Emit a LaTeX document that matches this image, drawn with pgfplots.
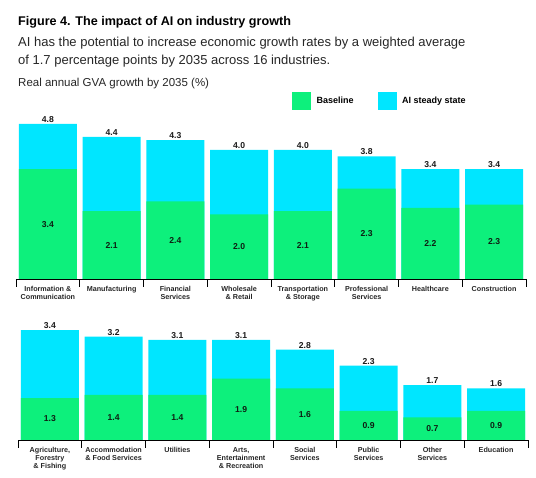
\documentclass[border=0pt]{standalone}
\usepackage{pgfplots}
\pgfplotsset{compat=1.18}
\usepackage{pgfplotstable}
\usepackage{fontspec}
\setmainfont{Liberation Sans}
\definecolor{gBase}{HTML}{0DF07C}
\definecolor{cAI}{HTML}{00E6FF}
\definecolor{numdark}{HTML}{0E1E12}

% x, baseline (drawn height), baseline label
\pgfplotstableread{
x base lab
0 3.4 3.4
1 2.1 2.1
2 2.4 2.4
3 2.0 2.0
4 2.1 2.1
5 2.8 2.3
6 2.2 2.2
7 2.3 2.3
}\topbase
\pgfplotstableread{
x total
0 4.8
1 4.4
2 4.3
3 4.0
4 4.0
5 3.8
6 3.4
7 3.4
}\toptotal
\pgfplotstableread{
x base lab
0 1.3 1.3
1 1.4 1.4
2 1.4 1.4
3 1.9 1.9
4 1.6 1.6
5 0.9 0.9
6 0.7 0.7
7 0.9 0.9
}\botbase
\pgfplotstableread{
x total
0 3.4
1 3.2
2 3.1
3 3.1
4 2.8
5 2.3
6 1.7
7 1.6
}\bottotal

\pgfplotsset{
 rowstyle/.style={
  scale only axis, width=510pt, height=161.5pt,
  xmin=-0.5, xmax=7.5, ymin=0, ymax=5,
  axis y line=none, axis x line*=bottom,
  x axis line style={-, black, line width=0.8pt},
  xtick={0,...,7}, major tick length=0pt,
  extra x ticks={-0.5,0.5,1.5,2.5,3.5,4.5,5.5,6.5,7.5},
  extra x tick labels={},
  extra x tick style={major tick length=8pt, tick align=outside, tick style={black, line width=0.8pt}},
  xticklabel style={font=\fontsize{7.2}{8.1}\selectfont\bfseries, align=center, anchor=north, inner sep=1pt, yshift=-6pt, text=black!85},
  ybar, bar width=58pt, bar shift=0pt,
  clip=false,
  /pgf/number format/assume math mode=true,
  /pgf/number format/.cd, fixed, fixed zerofill, precision=1, /pgfplots/.cd,
 },
 totstyle/.style={fill=cAI, draw=none, nodes near coords,
  every node near coord/.append style={font=\fontsize{8.6}{10}\selectfont\bfseries, text=black!90, inner sep=1.2pt}},
 basestyle/.style={fill=gBase, draw=none, nodes near coords, point meta=explicit,
  visualization depends on={y \as \rawy},
  every node near coord/.append style={font=\fontsize{8.6}{10}\selectfont\bfseries, text=numdark, anchor=center, shift={(axis direction cs:0,-\rawy/2)}}},
}

\begin{document}
\begin{tikzpicture}
\path[use as bounding box] (0pt,0pt) rectangle (536pt,478pt);

\node[anchor=base west, inner sep=0pt, font=\fontsize{12.6}{15}\selectfont\bfseries] at (18pt,452pt) {Figure 4. The impact of AI on industry growth};
\node[anchor=base west, inner sep=0pt, font=\fontsize{13}{15}\selectfont, text=black!85] at (18pt,431.5pt) {AI has the potential to increase economic growth rates by a weighted average};
\node[anchor=base west, inner sep=0pt, font=\fontsize{13}{15}\selectfont, text=black!85] at (18pt,413pt) {of 1.7 percentage points by 2035 across 16 industries.};
\node[anchor=base west, inner sep=0pt, font=\fontsize{11.5}{13}\selectfont, text=black!85] at (18pt,391pt) {Real annual GVA growth by 2035 (\%)};

\begin{axis}[rowstyle, at={(16pt,199pt)}, anchor=south west,
  xticklabels={{Information \&\\Communication}, Manufacturing, {Financial\\Services}, {Wholesale\\\& Retail}, {Transportation\\\& Storage}, {Professional\\Services}, Healthcare, Construction},
  legend style={at={(0.5412,1.105)}, anchor=west, draw=none, fill=none, inner sep=0pt, legend columns=2,
    font=\fontsize{9}{10}\selectfont\bfseries,
    /tikz/every odd column/.append style={column sep=4pt},
    /tikz/every even column/.append style={column sep=22pt}},
  legend cell align=left,
]
\addplot[totstyle, forget plot] table[x=x, y=total] {\toptotal};
\addplot[basestyle, forget plot] table[x=x, y=base, meta=lab] {\topbase};
\addlegendimage{legend image code/.code={\fill[gBase] (0pt,-8.5pt) rectangle (18pt,8.5pt);}}
\addlegendentry{Baseline}
\addlegendimage{legend image code/.code={\fill[cAI] (0pt,-8.5pt) rectangle (18pt,8.5pt);}}
\addlegendentry{AI steady state}
\end{axis}

\begin{axis}[rowstyle, at={(18pt,38pt)}, anchor=south west,
  xticklabels={{Agriculture,\\Forestry\\\& Fishing}, {Accommodation\\\& Food Services}, Utilities, {Arts,\\Entertainment\\\& Recreation}, {Social\\Services}, {Public\\Services}, {Other\\Services}, Education},
]
\addplot[totstyle] table[x=x, y=total] {\bottotal};
\addplot[basestyle] table[x=x, y=base, meta=lab] {\botbase};
\end{axis}
\end{tikzpicture}
\end{document}
